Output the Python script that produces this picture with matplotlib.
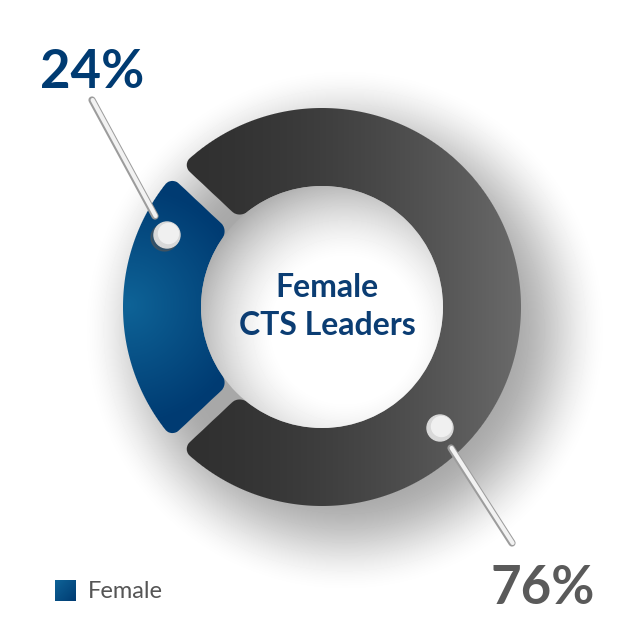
import numpy as np
import matplotlib
matplotlib.use("Agg")
import matplotlib.pyplot as plt
from matplotlib.patches import Circle, Rectangle
from matplotlib.colors import LinearSegmentedColormap

# ---- data ----
categories = ["Female", "Male"]
shares = [24, 76]
pct_labels = ["24%", "76%"]
center_title = "Female\nCTS Leaders"
legend_label = "Female"

plt.rcParams['font.family'] = ['Lato', 'DejaVu Sans']

W = H = 640
fig = plt.figure(figsize=(6.4, 6.4), dpi=100)
ax = fig.add_axes([0, 0, 1, 1])

CX, CY = 322, 307
R_OUT, R_IN = 199, 121
GAP, CORNER = 16.0, 10.0

yy, xx = np.mgrid[0:H, 0:W] + 0.5


def smoothstep(v):
    v = np.clip(v, 0, 1)
    return v * v * (3 - 2 * v)


# outer soft shadow (background), offset to the lower right
d_sh = np.hypot(xx - 345, yy - 330)
s = 0.34 * (1 - smoothstep((d_sh - 160) / 105.0))
bg = 1 - s
ax.imshow(bg, cmap='gray', vmin=0, vmax=1, extent=(0, W, H, 0),
          origin='upper', zorder=0, interpolation='bilinear')

# donut wedges from the data (angles come from the pie layout)
start = 180 - 360 * shares[0] / sum(shares) / 2
wedges, _ = ax.pie(shares, startangle=start, counterclock=True,
                   radius=R_OUT, center=(CX, CY),
                   wedgeprops=dict(width=R_OUT - R_IN, facecolor='none',
                                   edgecolor='none'))

rr = np.hypot(xx - CX, yy - CY)
th = np.degrees(np.arctan2(yy - CY, xx - CX))


def rounded_mask(t1, t2):
    span = t2 - t1
    a_mod = (th - t1) % 360
    inside = a_mod <= span
    fs = np.where(inside, a_mod, a_mod - 360)
    fe = span - a_mod
    d1 = rr * np.sin(np.radians(np.clip(fs, -90, 90)))
    d2 = rr * np.sin(np.radians(np.clip(fe, -90, 90)))
    h = GAP / 2 + CORNER
    parts = [d1 - h, d2 - h, (R_OUT - CORNER) - rr, rr - (R_IN + CORNER)]
    dist = np.sqrt(sum(np.minimum(p, 0) ** 2 for p in parts))
    return np.clip(CORNER - dist + 0.5, 0, 1)


def rgba_from(cmap, tval, alpha):
    img = cmap(tval)
    img[..., 3] = alpha
    return img


blue_cmap = LinearSegmentedColormap.from_list('b', ['#0e6397', '#003b72'])
db = np.hypot(xx - 128, yy - 305)
blue_t = np.clip(db / 120.0, 0, 1)
gray_cmap = LinearSegmentedColormap.from_list('g', ['#303030', '#6a6a6a'])
gray_t = np.clip((xx - 180) / 340.0, 0, 1) ** 1.6

for w, cm, tv in zip(wedges, [blue_cmap, gray_cmap], [blue_t, gray_t]):
    m = rounded_mask(w.theta1, w.theta2)
    ax.imshow(rgba_from(cm, tv, m), extent=(0, W, H, 0), origin='upper',
              zorder=2, interpolation='bilinear')

# inner hole shading
hole = Circle((CX, CY), R_IN, transform=ax.transData, facecolor='none', edgecolor='none')
ax.add_patch(hole)
dh = np.hypot(xx - 345, yy - 330)
tt = np.clip((dh - 70) / 90.0, 0, 1)
hv = 1 - 0.36 * tt ** 1.5
im_h = ax.imshow(hv, cmap='gray', vmin=0, vmax=1, extent=(0, W, H, 0),
                 origin='upper', zorder=4, interpolation='bilinear')
im_h.set_clip_path(hole)

# leader sticks and knobs
sticks = [((92, 100), (155, 216)), ((451, 448), (512, 543))]
knobs = [(167, 235), (440, 428)]
for (p0, p1) in sticks:
    ax.plot([p0[0], p1[0]], [p0[1], p1[1]], color='#9c9c9c', lw=5.2,
            solid_capstyle='round', zorder=6)
    ax.plot([p0[0] + 0.6, p1[0] + 0.6], [p0[1], p1[1]], color='#f2f2f2', lw=3.0,
            solid_capstyle='round', zorder=7)
for (kx, ky) in knobs:
    ax.add_patch(Circle((kx - 2.5, ky + 2.5), 13.5, color='#555555', alpha=0.55, zorder=6))
    ax.add_patch(Circle((kx, ky), 13, color='#d9d9d9', zorder=7))
    ax.add_patch(Circle((kx + 1.5, ky - 1.5), 10, color='#f0f0f0', zorder=8))

# percent labels
ax.text(92, 88, pct_labels[0], ha='center', va='baseline', fontsize=38,
        fontweight='bold', color='#003b72', zorder=9)
ax.text(543, 604, pct_labels[1], ha='center', va='baseline', fontsize=38,
        fontweight='bold', color='#5a5a5a', zorder=9)

# centre title
for line, base in zip(center_title.split("\n"), [297, 335]):
    ax.text(CX + 5, base, line, ha='center', va='baseline', fontsize=23,
            fontweight='bold', color='#0b3d73', zorder=9)

# legend
sq = Rectangle((55, 580), 21, 21, facecolor='none', edgecolor='none')
ax.add_patch(sq)
lg = np.clip(((xx - 55) + (yy - 580)) / 42.0, 0, 1)
im_l = ax.imshow(lg, cmap=blue_cmap, vmin=0, vmax=1, extent=(0, W, H, 0),
                 origin='upper', zorder=5, interpolation='bilinear')
im_l.set_clip_path(sq)
ax.text(88, 598, legend_label, ha='left', va='baseline', fontsize=17,
        color='#555555', zorder=9)

ax.set_xlim(0, W)
ax.set_ylim(H, 0)
ax.set_aspect('equal')
ax.axis('off')

fig.savefig('out.png', dpi=100, facecolor='white')
